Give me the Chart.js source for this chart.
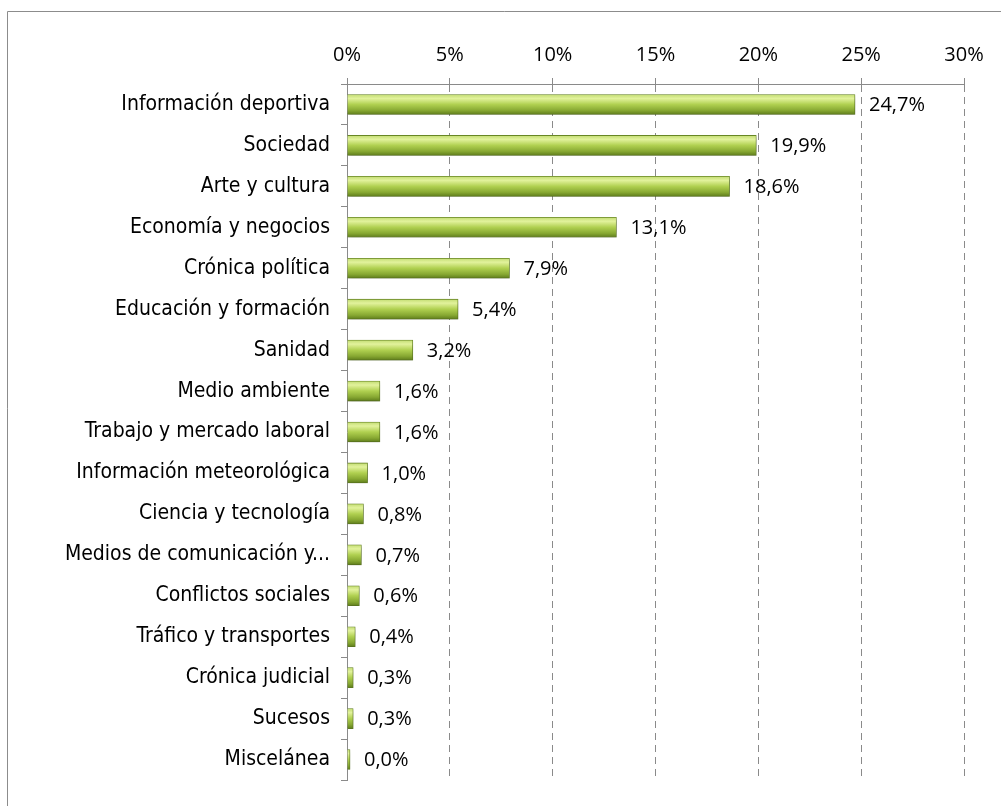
<!DOCTYPE html>
<html>
<head>
<meta charset="utf-8">
<script src="https://cdn.jsdelivr.net/npm/chart.js@4.4.1/dist/chart.umd.min.js"></script>
<style>
  html, body { margin: 0; padding: 0; background: #fff; }
  #wrap { width: 1001px; height: 806px; position: relative; }
</style>
</head>
<body>
<div id="wrap"><canvas id="temasChart" width="1001" height="806"></canvas></div>
<script>
// categorias y porcentajes
const categorias = [
    'Información deportiva',
    'Sociedad',
    'Arte y cultura',
    'Economía y negocios',
    'Crónica política',
    'Educación y formación',
    'Sanidad',
    'Medio ambiente',
    'Trabajo y mercado laboral',
    'Información meteorológica',
    'Ciencia y tecnología',
    'Medios de comunicación y...',
    'Conflictos sociales',
    'Tráfico y transportes',
    'Crónica judicial',
    'Sucesos',
    'Miscelánea'
];
const porcentajes = [24.7, 19.9, 18.6, 13.1, 7.9, 5.4, 3.2, 1.6, 1.6, 1.0, 0.8, 0.7, 0.6, 0.4, 0.3, 0.3, 0.0];
const ticksX = [0, 5, 10, 15, 20, 25, 30];

const GROSOR = 20;
const fmt = v => v.toFixed(1).replace('.', ',') + '%';

// marco exterior (solo se ve arriba y a la izquierda)
const marco = {
    id: 'marco',
    beforeDraw(chart) {
        const ctx = chart.ctx;
        ctx.save();
        ctx.strokeStyle = '#8c8c8c';
        ctx.lineWidth = 1;
        ctx.beginPath();
        ctx.moveTo(7.5, 806);
        ctx.lineTo(7.5, 11.5);
        ctx.lineTo(1001, 11.5);
        ctx.stroke();
        ctx.restore();
    }
};

// sombra suave bajo las barras
const sombra = {
    id: 'sombra',
    beforeDatasetsDraw(chart) {
        const ctx = chart.ctx;
        ctx.save();
        ctx.shadowColor = 'rgba(0,0,0,0.28)';
        ctx.shadowBlur = 4;
        ctx.shadowOffsetX = 1;
        ctx.shadowOffsetY = 2;
    },
    afterDatasetsDraw(chart) {
        chart.ctx.restore();
    }
};

// etiquetas de valor a la derecha de cada barra
const etiquetas = {
    id: 'etiquetas',
    afterDraw(chart) {
        const ctx = chart.ctx;
        ctx.save();
        ctx.font = '20px "Open Sans"';
        ctx.fillStyle = '#000';
        ctx.textBaseline = 'middle';
        ctx.textAlign = 'left';
        chart.getDatasetMeta(0).data.forEach((bar, i) => {
            ctx.fillText(fmt(porcentajes[i]), bar.x + 14, bar.y + 1);
        });
        ctx.restore();
    }
};

// degradado vertical por barra, tipo cilindro
function colorBarra(context) {
    const chart = context.chart;
    const y = chart.scales.y;
    if (!y || y.top === undefined) return '#a6c84a';
    const cy = y.getPixelForValue(context.dataIndex);
    const top = cy - GROSOR / 2;
    const g = chart.ctx.createLinearGradient(0, top, 0, top + GROSOR);
    g.addColorStop(0, '#c2dc72');
    g.addColorStop(0.2, '#e2f29c');
    g.addColorStop(0.5, '#b0d050');
    g.addColorStop(0.8, '#87a832');
    g.addColorStop(1, '#5f7d1c');
    return g;
}

new Chart(document.getElementById('temasChart'), {
    type: 'bar',
    data: {
        labels: categorias,
        datasets: [
            {
                label: 'Temas',
                data: porcentajes,
                backgroundColor: colorBarra,
                borderColor: '#6b8a26',
                borderWidth: 0.8,
                barThickness: GROSOR,
                minBarLength: 3
            }
        ]
    },
    options: {
        indexAxis: 'y',
        responsive: false,
        animation: false,
        layout: {
            padding: { left: 0, top: 0, right: 37, bottom: 26 }
        },
        plugins: {
            legend: { display: false },
            tooltip: { enabled: false }
        },
        scales: {
            x: {
                position: 'top',
                min: 0,
                max: 30,
                afterBuildTicks: scale => {
                    scale.ticks = ticksX.map(v => ({ value: v }));
                },
                afterFit: scale => { scale.height = 84; },
                ticks: {
                    callback: v => v + '%',
                    color: '#000',
                    padding: 11,
                    font: { family: 'Open Sans', size: 20 }
                },
                grid: {
                    color: '#8a8a8a',
                    tickLength: 6,
                    tickColor: '#8a8a8a'
                },
                border: {
                    display: true,
                    color: '#8a8a8a',
                    dash: [7, 5]
                }
            },
            y: {
                afterFit: scale => { scale.width = 347; },
                ticks: {
                    color: '#000',
                    padding: 11,
                    autoSkip: false,
                    font: { family: '"DejaVu Sans Condensed", "DejaVu Sans"', size: 21 }
                },
                grid: {
                    offset: true,
                    drawOnChartArea: false,
                    tickLength: 6,
                    color: '#8a8a8a'
                },
                border: {
                    display: true,
                    color: '#8a8a8a'
                }
            }
        }
    },
    plugins: [marco, sombra, etiquetas]
});
</script>
</body>
</html>
